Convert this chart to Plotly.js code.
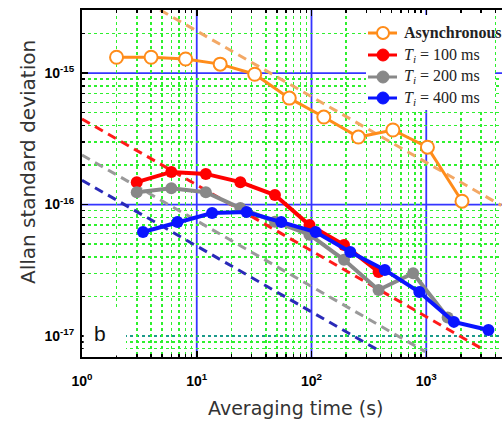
<!DOCTYPE html>
<html><head><meta charset="utf-8">
<script src="https://cdn.plot.ly/plotly-3.0.1.min.js"></script>
<style>html,body{margin:0;padding:0;background:#fff;}#chart{width:502px;height:425px;}</style>
</head><body><div id="chart"></div>
<script>
// Data
const asyncX = [2, 4, 8, 16, 32, 64, 128, 256, 512, 1024, 2048];
const asyncY = [1.32e-15, 1.32e-15, 1.28e-15, 1.17e-15, 9.8e-16, 6.45e-16, 4.63e-16, 3.26e-16, 3.69e-16, 2.73e-16, 1.06e-16];
const redX = [3, 6, 12, 24, 48, 96, 192, 384];
const redY = [1.48e-16, 1.77e-16, 1.71e-16, 1.48e-16, 1.18e-16, 6.98e-17, 4.92e-17, 3.07e-17];
const grayX = [3, 6, 12, 24, 48, 96, 192, 384, 768, 1536];
const grayY = [1.24e-16, 1.33e-16, 1.24e-16, 9.4e-17, 7.4e-17, 5.9e-17, 3.8e-17, 2.24e-17, 3.0e-17, 1.38e-17];
const blueX = [3.4, 6.8, 13.6, 27.2, 54.4, 108.8, 217.6, 435.2, 870.4, 1740.8, 3481.6];
const blueY = [6.18e-17, 7.36e-17, 8.61e-17, 8.77e-17, 7.36e-17, 6.18e-17, 4.35e-17, 3.18e-17, 2.16e-17, 1.28e-17, 1.11e-17];
// dashed guide lines (endpoints)
const orangeRefX = [4.8, 4500], orangeRefY = [3.02e-15, 9.85e-17];
const redRefX = [1, 3130], redRefY = [4.47e-16, 7.9e-18];
const grayRefX = [1, 980], grayRefY = [2.38e-16, 7.6e-18];
const blueRefX = [1, 372], blueRefY = [1.53e-16, 7.9e-18];
const legendNames = ['<b>Asynchronous</b>', '<i>T</i><sub><i>i</i></sub> = 100 ms', '<i>T</i><sub><i>i</i></sub> = 200 ms', '<i>T</i><sub><i>i</i></sub> = 400 ms'];
const xTickVals = [1, 10, 100, 1000];
const xTickText = ['<b>10<sup>0</sup></b>', '<b>10<sup>1</sup></b>', '<b>10<sup>2</sup></b>', '<b>10<sup>3</sup></b>'];
const yTickVals = [1e-17, 1e-16, 1e-15];
const yTickText = ['<b>10<sup>-17</sup></b>', '<b>10<sup>-16</sup></b>', '<b>10<sup>-15</sup></b>'];
const xMajorGrid = [10, 100, 1000];
const yMajorGrid = [1e-16, 1e-15];
const minorDigits = [2, 3, 4, 5, 6, 7, 8, 9];
const xDecades = [1, 10, 100, 1000];
const yDecades = [1e-18, 1e-17, 1e-16, 1e-15];

const colors = {async: '#ff8c1a', red: '#ff0000', gray: '#888888', blue: '#0a14ff'};
const gridBlue = '#3535ff';
const dash = '9px,6px';
function ref(x, y, c) {
  return {x: x, y: y, mode: 'lines', showlegend: false, hoverinfo: 'skip',
    line: {color: c, width: 3, dash: dash}};
}
const traces = [
  ref(orangeRefX, orangeRefY, '#f3a865'),
  ref(redRefX, redRefY, '#ff1a1a'),
  ref(grayRefX, grayRefY, '#9a9a9a'),
  ref(blueRefX, blueRefY, '#2a2ab8'),
  {x: asyncX, y: asyncY, name: legendNames[0], mode: 'lines+markers', showlegend: false,
    line: {color: colors.async, width: 3},
    marker: {symbol: 'circle', size: 13, color: '#ffffff', line: {color: colors.async, width: 2}}},
  {x: redX, y: redY, name: legendNames[1], mode: 'lines+markers', showlegend: false,
    line: {color: colors.red, width: 4}, marker: {size: 12, color: colors.red}},
  {x: grayX, y: grayY, name: legendNames[2], mode: 'lines+markers', showlegend: false,
    line: {color: colors.gray, width: 4}, marker: {size: 12, color: colors.gray}},
  {x: blueX, y: blueY, name: legendNames[3], mode: 'lines+markers', showlegend: false,
    line: {color: colors.blue, width: 4}, marker: {size: 12, color: colors.blue}}
];

function minorVals(decades) {
  const out = [];
  decades.forEach(d => minorDigits.forEach(m => out.push(m * d)));
  return out;
}
function minorGrid(vals) {
  return {tickmode: 'array', tickvals: vals, ticks: 'inside', ticklen: 3, tickcolor: '#000',
    showgrid: true, gridcolor: '#2ef02e', griddash: 'dot', gridwidth: 1.5};
}

// pixel -> paper helpers for the plot box (l=82, r=502, t=10, b=357)
const px2x = p => (p - 82) / 420;
const py2y = p => (357 - p) / 347;

const gridShapes = [];
xMajorGrid.forEach(v => gridShapes.push({type: 'line', xref: 'x', x0: v, x1: v, yref: 'paper', y0: 0, y1: 1,
  layer: 'below', line: {color: gridBlue, width: 1.8}}));
yMajorGrid.forEach(v => gridShapes.push({type: 'line', xref: 'paper', x0: 0, x1: 1, yref: 'y', y0: v, y1: v,
  layer: 'below', line: {color: gridBlue, width: 1.8}}));
gridShapes.push({type: 'line', xref: 'paper', x0: 0, x1: 1, yref: 'y', y0: 1e-17, y1: 1e-17, layer: 'below',
  line: {color: '#1a9a8a', width: 2, dash: 'dot'}});
gridShapes.push({type: 'rect', xref: 'paper', yref: 'paper', x0: 0.004, x1: px2x(126), y0: 0.004, y1: py2y(310),
  layer: 'above', fillcolor: '#ffffff', line: {width: 0}});

// manual legend (lets the first label run past the right edge as in the reference)
const legendColors = [colors.async, colors.red, colors.gray, colors.blue];
const legendRows = [33, 55, 77, 98];
const legendShapes = [
  {type: 'rect', xref: 'paper', yref: 'paper', x0: px2x(366), x1: px2x(495), y0: py2y(110), y1: py2y(15),
    layer: 'above', fillcolor: '#ffffff', line: {width: 0}}
];
const legendAnn = [];
legendNames.forEach((name, i) => {
  const yy = py2y(legendRows[i]);
  legendShapes.push({type: 'line', xref: 'paper', yref: 'paper', x0: px2x(368), x1: px2x(397), y0: yy, y1: yy,
    layer: 'above', line: {color: legendColors[i], width: 3}});
  const r = 6;
  legendShapes.push({type: 'circle', xref: 'paper', yref: 'paper', xsizemode: 'pixel', ysizemode: 'pixel',
    xanchor: px2x(383), yanchor: yy, x0: -r, x1: r, y0: -r, y1: r, layer: 'above',
    fillcolor: i === 0 ? '#ffffff' : legendColors[i], line: {color: legendColors[i], width: i === 0 ? 2 : 1}});
  legendAnn.push({xref: 'paper', yref: 'paper', x: px2x(402), y: yy, xanchor: 'left', yanchor: 'middle',
    text: name, showarrow: false,
    font: {family: 'Liberation Serif, Times New Roman, serif', size: 16, color: '#222'}});
});

const layout = {
  width: 502, height: 425,
  margin: {l: 82, r: 0, t: 10, b: 68, autoexpand: false},
  paper_bgcolor: '#fff', plot_bgcolor: '#fff',
  font: {family: 'Liberation Sans, Arial, sans-serif', color: '#000'},
  showlegend: false,
  xaxis: {type: 'log', range: [0, 3.66], tickvals: xTickVals, ticktext: xTickText,
    ticks: 'inside', ticklen: 6, tickwidth: 1.5, tickcolor: '#000',
    showline: true, linecolor: '#000', linewidth: 2, mirror: 'ticks',
    showgrid: false, zeroline: false,
    tickfont: {size: 14, family: 'Liberation Sans, Arial, sans-serif'},
    ticklabelstandoff: 10,
    minor: minorGrid(minorVals(xDecades))},
  yaxis: {type: 'log', range: [-17.16, -14.52], tickvals: yTickVals, ticktext: yTickText,
    ticks: 'inside', ticklen: 6, tickwidth: 1.5, tickcolor: '#000',
    showline: true, linecolor: '#000', linewidth: 2,
    showgrid: false, zeroline: false,
    tickfont: {size: 14, family: 'Liberation Sans, Arial, sans-serif'},
    ticklabelstandoff: 3,
    minor: minorGrid(minorVals(yDecades))},
  shapes: gridShapes.concat(legendShapes),
  annotations: [
    {xref: 'paper', yref: 'paper', x: px2x(100), y: py2y(333), text: 'b', showarrow: false,
      xanchor: 'center', yanchor: 'middle',
      font: {size: 21, family: 'Liberation Sans, Arial, sans-serif', color: '#111'}},
    {xref: 'paper', yref: 'paper', x: px2x(295), y: py2y(408), text: 'Averaging time (s)', showarrow: false,
      xanchor: 'center', yanchor: 'middle',
      font: {size: 19, family: 'DejaVu Sans, sans-serif', color: '#333'}},
    {xref: 'paper', yref: 'paper', x: px2x(28), y: py2y(162), text: 'Allan standard deviation', showarrow: false,
      xanchor: 'center', yanchor: 'middle', textangle: -90,
      font: {size: 20, family: 'DejaVu Sans, sans-serif', color: '#333'}}
  ].concat(legendAnn)
};
Plotly.newPlot('chart', traces, layout, {displayModeBar: false, staticPlot: true});
</script></body></html>
